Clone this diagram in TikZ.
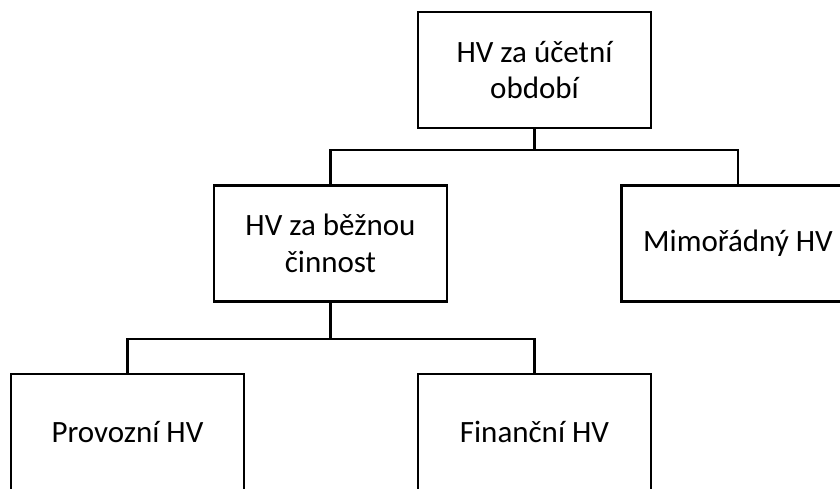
\documentclass[tikz,border=0pt]{standalone}
\usepackage{fontspec}
\setmainfont{Carlito}
\begin{document}
\begin{tikzpicture}[x=1pt,y=-1pt,
  hvbox/.style={draw=black,line width=2.4pt,minimum width=233pt,minimum height=116pt,
    inner sep=0pt,align=center,font=\fontsize{31}{36.5}\selectfont,text=black},
  conn/.style={draw=black,line width=2.4pt}]
\useasboundingbox (0,0) rectangle (840,489);
\clip (0,0) rectangle (840,489);
\node[hvbox] (top) at (534.5,70) {HV za účetní\\období};
\node[hvbox] (mid) at (330.5,243.5) {HV za běžnou\\činnost};
\node[hvbox] (extra) at (738,243.5) {Mimořádný HV};
\node[hvbox] (prov) at (127.5,432) {Provozní HV};
\node[hvbox] (fin) at (534.5,432) {Finanční HV};
\draw[conn] (top.south) -- ++(0,21) -| (mid.north);
\draw[conn] (top.south) ++(0,21) -| (extra.north);
\draw[conn] (mid.south) -- ++(0,36) -| (prov.north);
\draw[conn] (mid.south) ++(0,36) -| (fin.north);
\end{tikzpicture}
\end{document}
